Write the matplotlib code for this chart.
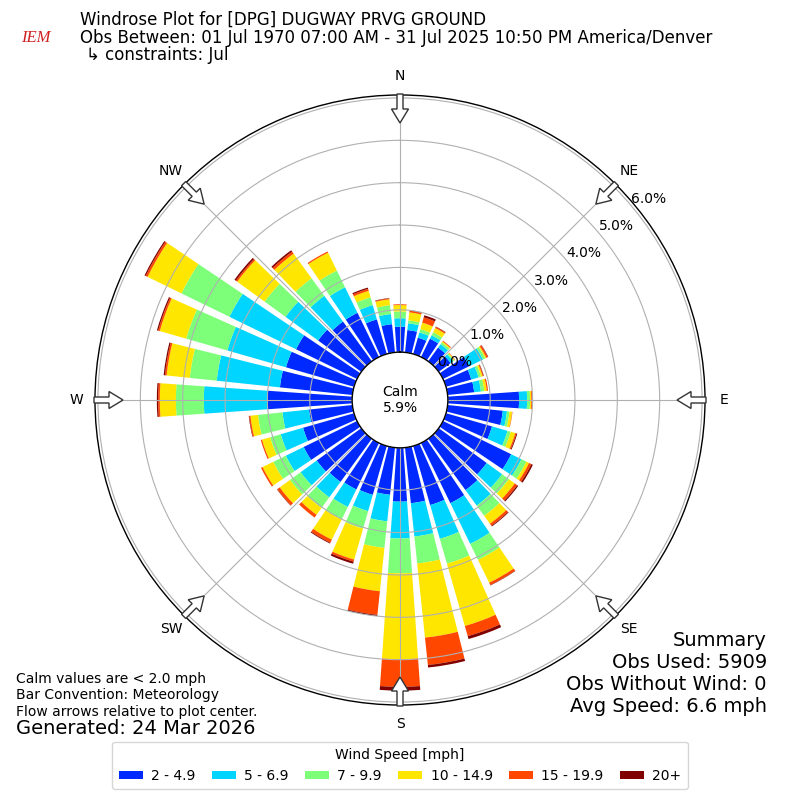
import numpy as np
import matplotlib
matplotlib.use("Agg")
import matplotlib.pyplot as plt
from matplotlib.patches import FancyArrow, Rectangle

# ---------------- data (percent of observations) ----------------
directions = list(range(0, 360, 10))
speed_bins = ["2 - 4.9", "5 - 6.9", "7 - 9.9", "10 - 14.9", "15 - 19.9", "20+"]

s_2_5 = [0.60, 0.53, 0.40, 0.48, 0.40, 0.35, 0.69, 0.62, 0.63, 1.68, 1.31, 1.13,
         1.79, 1.40, 1.50, 1.58, 1.45, 1.32, 1.27, 1.12, 1.20, 1.22, 1.26, 1.30,
         1.40, 1.25, 1.03, 2.00, 1.72, 1.67, 1.60, 1.26, 1.16, 1.16, 0.85, 0.67]
s_5_7 = [0.20, 0.16, 0.13, 0.09, 0.10, 0.07, 0.36, 0.18, 0.16, 0.19, 0.10, 0.38,
         0.27, 0.45, 0.45, 1.07, 0.83, 0.79, 0.87, 0.63, 0.40, 0.46, 0.45, 0.47,
         0.47, 0.55, 0.63, 1.50, 1.50, 1.44, 1.75, 0.95, 0.75, 0.67, 0.35, 0.24]
s_7_10 = [0.16, 0.07, 0.08, 0.08, 0.05, 0.03, 0.06, 0.06, 0.08, 0.07, 0.06, 0.08,
          0.13, 0.20, 0.30, 0.42, 0.61, 0.64, 0.82, 0.63, 0.43, 0.33, 0.31, 0.31,
          0.33, 0.26, 0.58, 0.66, 0.64, 1.01, 1.26, 0.61, 0.51, 0.44, 0.19, 0.21]
s_10_15 = [0.15, 0.19, 0.16, 0.11, 0.03, 0.02, 0.03, 0.04, 0.06, 0.03, 0.06, 0.11,
           0.07, 0.17, 0.23, 0.60, 1.53, 1.76, 2.03, 1.03, 0.76, 0.53, 0.20, 0.30,
           0.28, 0.20, 0.18, 0.38, 0.55, 0.65, 0.89, 0.80, 0.72, 0.47, 0.16, 0.14]
s_15_20 = [0.02, 0.04, 0.13, 0.03, 0.02, 0.01, 0.04, 0.02, 0.03, 0.02, 0.01, 0.03,
           0.06, 0.07, 0.06, 0.06, 0.25, 0.65, 0.65, 0.56, 0.05, 0.08, 0.08, 0.07,
           0.04, 0.03, 0.03, 0.04, 0.04, 0.04, 0.05, 0.04, 0.06, 0.03, 0.05, 0.02]
s_20p = [0.00, 0.01, 0.05, 0.01, 0.00, 0.00, 0.01, 0.01, 0.00, 0.00, 0.00, 0.02,
         0.04, 0.03, 0.02, 0.01, 0.07, 0.06, 0.09, 0.03, 0.05, 0.02, 0.00, 0.01,
         0.00, 0.00, 0.01, 0.03, 0.03, 0.03, 0.03, 0.04, 0.04, 0.00, 0.03, 0.01]
series = [s_2_5, s_5_7, s_7_10, s_10_15, s_15_20, s_20p]

calm_pct = 5.9
r_ticks = [0, 1, 2, 3, 4, 5, 6]
compass = ["N", "NE", "E", "SE", "S", "SW", "W", "NW"]
summary_lines = ["Summary", "Obs Used: 5909", "Obs Without Wind: 0",
                 "Avg Speed: 6.6 mph"]
note_lines = ["Calm values are < 2.0 mph", "Bar Convention: Meteorology",
              "Flow arrows relative to plot center."]

# ---------------- figure ----------------
W = H = 800
fig = plt.figure(figsize=(8, 8), dpi=100)
cx, cy, R = 400.0, 400.0, 305.0
ax = fig.add_axes([(cx - R) / W, (H - cy - R) / H, 2 * R / W, 2 * R / H],
                  projection="polar")
ax.set_theta_zero_location("N")
ax.set_theta_direction(-1)
ax.set_rorigin(-1.13)
ax.set_ylim(0, 6.07)

colors = plt.get_cmap("jet")(np.linspace(0, 1, len(speed_bins) + 1))[1:]
theta = np.radians(directions)
width = np.radians(10) * 0.8
bottom = np.zeros(len(directions))
handles = []
for vals, col, lab in zip(series, colors, speed_bins):
    v = np.array(vals)
    ax.bar(theta, v, width=width, bottom=bottom, color=col, linewidth=0,
           zorder=1)
    bottom = bottom + v
    handles.append(Rectangle((0, 0), 1, 1, facecolor=col, label=lab))

ax.set_yticks(r_ticks)
ax.set_yticklabels([f"{t:.1f}%" for t in r_ticks], fontsize=10)
ax.set_rlabel_position(50)
ax.set_xticks(np.radians(range(0, 360, 45)))
ax.set_xticklabels([])
ax.grid(True, color="#b0b0b0", linewidth=0.8)
for sp in ax.spines.values():
    sp.set_color("black")
    sp.set_linewidth(1.0)

# ---------------- overlay (pixel coords) ----------------
ov = fig.add_axes([0, 0, 1, 1], facecolor="none")
ov.set_xlim(0, W)
ov.set_ylim(H, 0)
ov.axis("off")

for i, name in enumerate(compass):
    a = np.radians(i * 45)
    sx, sy = np.sin(a), -np.cos(a)
    r0, r1 = R + 1, R - 28
    ov.add_patch(FancyArrow(cx + r0 * sx, cy + r0 * sy, (r1 - r0) * sx,
                            (r1 - r0) * sy, width=6, head_width=17,
                            head_length=14, length_includes_head=True,
                            facecolor="white", edgecolor="#333333", lw=1.0,
                            zorder=5))
    rl = R + 19
    ov.text(cx + rl * sx, cy + rl * sy, name, ha="center", va="center",
            fontsize=10)

ov.text(cx, cy, f"Calm\n{calm_pct:.1f}%", ha="center", va="center",
        fontsize=10)

ov.text(36, 38, "IEM", color="#d02020", fontsize=12, family="Liberation Serif",
        style="italic", ha="center", va="center")

ov.text(80, 20, "Windrose Plot for [DPG] DUGWAY PRVG GROUND", fontsize=12,
        ha="left", va="center")
ov.text(80, 38, "Obs Between: 01 Jul 1970 07:00 AM - 31 Jul 2025 10:50 PM America/Denver",
        fontsize=12, ha="left", va="center")
ov.text(86, 55, "\u21b3 constraints: Jul", fontsize=12, ha="left", va="center")

for k, line in enumerate(note_lines):
    ov.text(16, 679 + 16.5 * k, line, fontsize=10, ha="left", va="center")
ov.text(16, 729, "Generated: 24 Mar 2026", fontsize=14, ha="left",
        va="center")
for k, line in enumerate(summary_lines):
    ov.text(767, 640 + 22 * k, line, fontsize=14, ha="right", va="center")

fig.legend(handles=handles, loc="lower center", bbox_to_anchor=(0.5, 0.005),
           ncol=6, title="Wind Speed [mph]", fontsize=10, title_fontsize=10,
           handlelength=1.75, handleheight=0.6, handletextpad=0.6,
           columnspacing=1.15, borderpad=0.45)

fig.savefig("out.png", dpi=100)
